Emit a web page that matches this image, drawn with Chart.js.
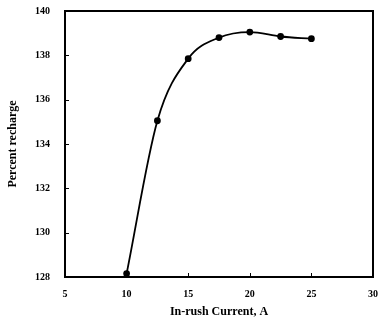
<!DOCTYPE html>
<html>
<head>
<meta charset="utf-8">
<script src="https://cdn.jsdelivr.net/npm/chart.js@4.4.0/dist/chart.umd.min.js"></script>
<style>
html,body{margin:0;padding:0;background:#fff;}
#wrap{width:379px;height:323px;position:relative;}
</style>
</head>
<body>
<div id="wrap"><canvas id="c" width="379" height="323"></canvas></div>
<script>
const currents = [10, 12.5, 15, 17.5, 20, 22.5, 25];
const recharge = [128.15, 135.05, 137.85, 138.8, 139.05, 138.85, 138.75];
const xTicks = [5, 10, 15, 20, 25, 30];
const yTicks = [128, 130, 132, 134, 136, 138, 140];

const frame = {
  id: 'frame',
  afterDraw(chart) {
    const {ctx, chartArea: a, scales: {x, y}} = chart;
    ctx.save();
    ctx.strokeStyle = '#000';
    ctx.lineWidth = 2;
    ctx.strokeRect(a.left, a.top, a.right - a.left, a.bottom - a.top);
    ctx.lineWidth = 1;
    ctx.beginPath();
    xTicks.forEach(v => { const px = Math.round(x.getPixelForValue(v)) + 0.5; ctx.moveTo(px, a.bottom); ctx.lineTo(px, a.bottom - 4); });
    yTicks.forEach(v => { const py = Math.round(y.getPixelForValue(v)) + 0.5; ctx.moveTo(a.left, py); ctx.lineTo(a.left + 4, py); });
    ctx.stroke();
    ctx.restore();
  }
};

const tickFont = {family: 'Liberation Serif', weight: 'bold', size: 10};
const titleFont = {family: 'Liberation Serif', weight: 'bold', size: 12};

new Chart(document.getElementById('c'), {
  type: 'line',
  data: {
    datasets: [{
      data: currents.map((c, i) => ({x: c, y: recharge[i]})),
      borderColor: '#000',
      backgroundColor: '#000',
      borderWidth: 1.8,
      pointRadius: 2.5,
      pointHoverRadius: 2.5,
      cubicInterpolationMode: 'monotone',
      fill: false
    }]
  },
  options: {
    responsive: false,
    animation: false,
    events: [],
    layout: {padding: {top: 11, right: 6, left: 0, bottom: 0}},
    plugins: {legend: {display: false}, tooltip: {enabled: false}},
    scales: {
      x: {
        type: 'linear', min: 5, max: 30,
        afterBuildTicks: s => { s.ticks = xTicks.map(v => ({value: v})); },
        afterFit: s => { s.height = 46; s.paddingLeft = 0; s.paddingRight = 0; },
        grid: {display: false, drawTicks: false},
        border: {display: false},
        ticks: {color: '#000', font: tickFont, padding: 11},
        title: {display: true, text: 'In-rush Current, A', color: '#000', font: titleFont, padding: {top: 6, bottom: 4}}
      },
      y: {
        min: 128, max: 140,
        afterBuildTicks: s => { s.ticks = yTicks.map(v => ({value: v})); },
        afterFit: s => { s.width = 65; s.paddingTop = 0; s.paddingBottom = 0; },
        grid: {display: false, drawTicks: false},
        border: {display: false},
        ticks: {color: '#000', font: tickFont, padding: 15},
        title: {display: true, text: 'Percent recharge', color: '#000', font: titleFont, padding: {top: 6, bottom: 0}}
      }
    }
  },
  plugins: [frame]
});
</script>
</body>
</html>
